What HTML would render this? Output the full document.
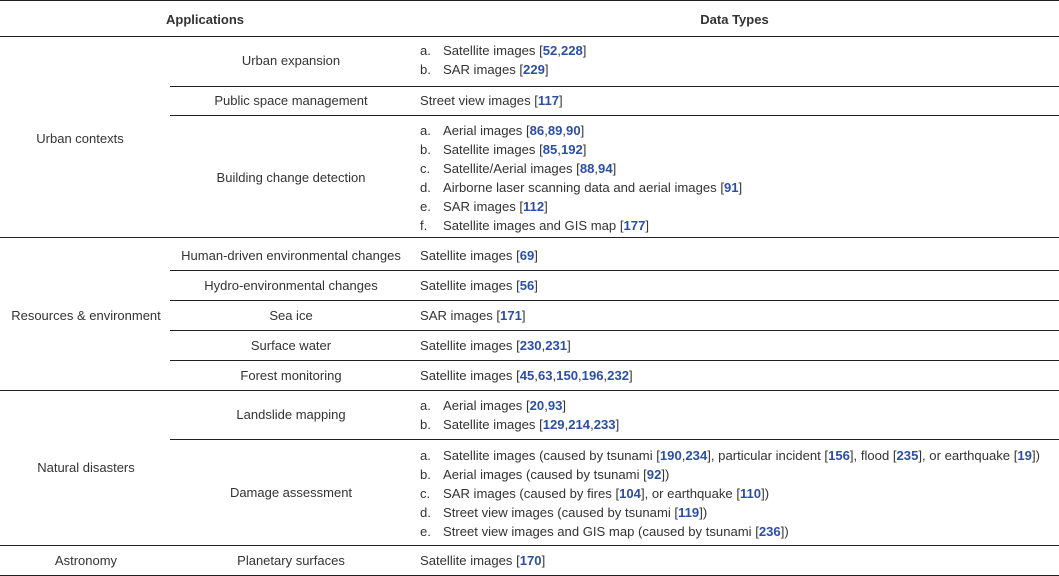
<!DOCTYPE html>
<html><head><meta charset="utf-8"><style>
body{margin:0;width:1059px;height:576px;background:#fff;position:relative;overflow:hidden;font-family:"Liberation Sans",sans-serif;font-size:13px;color:#333}
.l{position:absolute;height:1px;background:#222}
.t{position:absolute;line-height:19px;white-space:nowrap}
.c{text-align:center}
a,b.r{color:#2b4fa3;text-decoration:none;font-weight:bold}
.li{position:absolute;line-height:19px;white-space:nowrap;font-size:13.1px}
.li span.m{display:inline-block;width:23px}
</style></head><body>
<div class="l" style="top:0;left:0;width:1059px"></div>
<div class="l" style="top:36px;left:0;width:1059px"></div>
<div class="t c" style="top:10px;left:0;width:410px;font-weight:bold">Applications</div>
<div class="t c" style="top:10px;left:410px;width:649px;font-weight:bold">Data Types</div>

<div class="l" style="top:86px;left:170px;width:889px"></div>
<div class="l" style="top:115px;left:170px;width:889px"></div>
<div class="l" style="top:237px;left:0;width:1059px"></div>
<div class="l" style="top:270px;left:170px;width:889px"></div>
<div class="l" style="top:300px;left:170px;width:889px"></div>
<div class="l" style="top:330px;left:170px;width:889px"></div>
<div class="l" style="top:360px;left:170px;width:889px"></div>
<div class="l" style="top:390px;left:0;width:1059px"></div>
<div class="l" style="top:439px;left:170px;width:889px"></div>
<div class="l" style="top:545px;left:0;width:1059px"></div>
<div class="l" style="top:575px;left:0;width:1059px"></div>

<div class="t c" style="top:129px;left:0;width:160px">Urban contexts</div>
<div class="t c" style="top:306px;left:0;width:172px">Resources &amp; environment</div>
<div class="t c" style="top:458px;left:0;width:172px">Natural disasters</div>
<div class="t c" style="top:551px;left:0;width:172px">Astronomy</div>

<div class="t c" style="top:51px;left:170px;width:242px">Urban expansion</div>
<div class="t c" style="top:91px;left:170px;width:242px">Public space management</div>
<div class="t c" style="top:168px;left:170px;width:242px">Building change detection</div>
<div class="t c" style="top:246px;left:170px;width:242px">Human-driven environmental changes</div>
<div class="t c" style="top:276px;left:170px;width:242px">Hydro-environmental changes</div>
<div class="t c" style="top:306px;left:170px;width:242px">Sea ice</div>
<div class="t c" style="top:336px;left:170px;width:242px">Surface water</div>
<div class="t c" style="top:366px;left:170px;width:242px">Forest monitoring</div>
<div class="t c" style="top:405px;left:170px;width:242px">Landslide mapping</div>
<div class="t c" style="top:483px;left:170px;width:242px">Damage assessment</div>
<div class="t c" style="top:551px;left:170px;width:242px">Planetary surfaces</div>

<div class="li" style="top:41px;left:420px"><span class="m">a.</span>Satellite images [<a>52</a>,<a>228</a>]</div>
<div class="li" style="top:60px;left:420px"><span class="m">b.</span>SAR images [<a>229</a>]</div>
<div class="li" style="top:91px;left:420px">Street view images [<a>117</a>]</div>
<div class="li" style="top:121px;left:420px"><span class="m">a.</span>Aerial images [<a>86</a>,<a>89</a>,<a>90</a>]</div>
<div class="li" style="top:140px;left:420px"><span class="m">b.</span>Satellite images [<a>85</a>,<a>192</a>]</div>
<div class="li" style="top:159px;left:420px"><span class="m">c.</span>Satellite/Aerial images [<a>88</a>,<a>94</a>]</div>
<div class="li" style="top:178px;left:420px"><span class="m">d.</span>Airborne laser scanning data and aerial images [<a>91</a>]</div>
<div class="li" style="top:197px;left:420px"><span class="m">e.</span>SAR images [<a>112</a>]</div>
<div class="li" style="top:216px;left:420px"><span class="m">f.</span>Satellite images and GIS map [<a>177</a>]</div>
<div class="li" style="top:246px;left:420px">Satellite images [<a>69</a>]</div>
<div class="li" style="top:276px;left:420px">Satellite images [<a>56</a>]</div>
<div class="li" style="top:306px;left:420px">SAR images [<a>171</a>]</div>
<div class="li" style="top:336px;left:420px">Satellite images [<a>230</a>,<a>231</a>]</div>
<div class="li" style="top:366px;left:420px">Satellite images [<a>45</a>,<a>63</a>,<a>150</a>,<a>196</a>,<a>232</a>]</div>
<div class="li" style="top:396px;left:420px"><span class="m">a.</span>Aerial images [<a>20</a>,<a>93</a>]</div>
<div class="li" style="top:415px;left:420px"><span class="m">b.</span>Satellite images [<a>129</a>,<a>214</a>,<a>233</a>]</div>
<div class="li" style="top:446px;left:420px"><span class="m">a.</span>Satellite images (caused by tsunami [<a>190</a>,<a>234</a>], particular incident [<a>156</a>], flood [<a>235</a>], or earthquake [<a>19</a>])</div>
<div class="li" style="top:465px;left:420px"><span class="m">b.</span>Aerial images (caused by tsunami [<a>92</a>])</div>
<div class="li" style="top:484px;left:420px"><span class="m">c.</span>SAR images (caused by fires [<a>104</a>], or earthquake [<a>110</a>])</div>
<div class="li" style="top:503px;left:420px"><span class="m">d.</span>Street view images (caused by tsunami [<a>119</a>])</div>
<div class="li" style="top:522px;left:420px"><span class="m">e.</span>Street view images and GIS map (caused by tsunami [<a>236</a>])</div>
<div class="li" style="top:551px;left:420px">Satellite images [<a>170</a>]</div>
</body></html>
